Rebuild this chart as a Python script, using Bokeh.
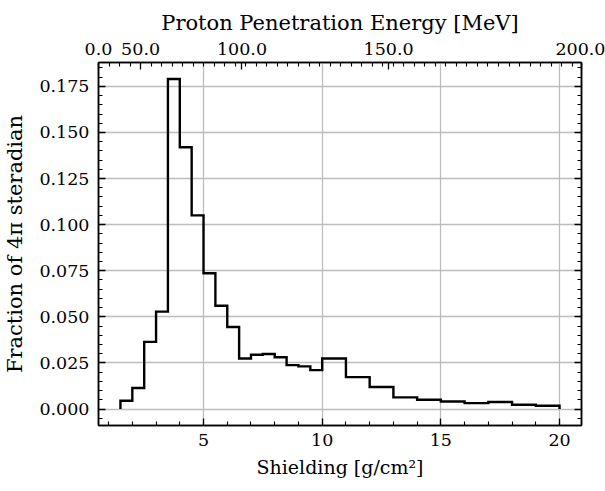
from bokeh.plotting import figure
from bokeh.models import (LinearAxis, FixedTicker, SingleIntervalTicker, CustomJSTickFormatter,
                          PrintfTickFormatter, Range1d)
from bokeh.embed import file_html
from bokeh.resources import INLINE

# ---- data ----
bin_edges = [1.5, 2.0, 2.5, 3.0, 3.5, 4.0, 4.5, 5.0, 5.5, 6.0, 6.5, 7.0, 7.5, 8.0, 8.5, 9.0, 9.5, 10.0,
             11.0, 12.0, 13.0, 14.0, 15.0, 16.0, 17.0, 18.0, 19.0, 20.0]
fractions = [0.0045, 0.0114, 0.0364, 0.0528, 0.1790, 0.1420, 0.1050, 0.0736, 0.0560, 0.0445,
             0.0274, 0.0294, 0.0298, 0.0281, 0.0238, 0.0231, 0.0211, 0.0274, 0.0173, 0.0119,
             0.0063, 0.0050, 0.0041, 0.0032, 0.0038, 0.0023, 0.0018]

x_lo, x_hi = 0.575, 20.925
y_lo, y_hi = -0.00895, 0.18795

energy_labels = ["0.0", "50.0", "100.0", "150.0", "200.0"]
energy_positions = [x_lo, 2.349, 6.62, 12.80, x_hi]

FONT = "DejaVu Serif"
FS = "17.5px"

p = figure(width=605, height=491, output_backend="svg", toolbar_location=None,
           x_range=Range1d(x_lo, x_hi), y_range=Range1d(y_lo, y_hi),
           min_border_left=98, min_border_right=24, min_border_top=62, min_border_bottom=66)
p.background_fill_color = "white"
p.border_fill_color = "white"
p.outline_line_color = "black"
p.outline_line_width = 1.5

# step outline of histogram
xs = [bin_edges[0]] + bin_edges
ys = [0.0] + fractions + [0.0]
p.step(x=xs, y=ys, mode="after", line_color="black", line_width=2.4, line_join="miter")

def style_axis(ax, label_size=FS):
    ax.axis_line_color = "black"
    ax.axis_line_width = 1.5
    ax.major_tick_line_color = "black"
    ax.minor_tick_line_color = "black"
    ax.major_tick_line_width = 1.3
    ax.minor_tick_line_width = 1.1
    ax.major_tick_in = 7
    ax.major_tick_out = 0
    ax.minor_tick_in = 4
    ax.minor_tick_out = 0
    ax.major_label_text_font = FONT
    ax.major_label_text_font_size = FS
    ax.major_label_text_color = "black"
    ax.axis_label_text_font = FONT
    ax.axis_label_text_font_size = label_size
    ax.axis_label_text_font_style = "normal"
    ax.axis_label_text_color = "black"

xticker = SingleIntervalTicker(interval=5, num_minor_ticks=5)
yticker = SingleIntervalTicker(interval=0.025, num_minor_ticks=5)

bx = p.xaxis[0]
bx.ticker = xticker
bx.formatter = PrintfTickFormatter(format="%d")
bx.axis_label = "Shielding [g/cm²]"
style_axis(bx, "19px")
bx.major_label_standoff = 8
bx.axis_label_standoff = 7

ly = p.yaxis[0]
ly.ticker = yticker
ly.formatter = PrintfTickFormatter(format="%.3f")
ly.axis_label = "Fraction of 4π steradian"
style_axis(ly, "21px")
ly.major_label_standoff = 9
ly.axis_label_standoff = 9

# right mirror axis
ry = LinearAxis(ticker=yticker, formatter=CustomJSTickFormatter(code="return ''"))
style_axis(ry)
p.add_layout(ry, "right")

# top axis: proton penetration energy
step = (energy_positions[1] - energy_positions[0]) / 4.0
top_minor = []
k = 0
while energy_positions[0] + k * step <= x_hi:
    t = energy_positions[0] + k * step
    if all(abs(t - m) > 1e-6 for m in energy_positions):
        top_minor.append(t)
    k += 1
top_ticker = FixedTicker(ticks=energy_positions, minor_ticks=top_minor)
top_fmt = CustomJSTickFormatter(args=dict(pos=energy_positions, lab=energy_labels), code="""
let best = 0, d = 1e9;
for (let i = 0; i < pos.length; i++) { const dd = Math.abs(pos[i] - tick); if (dd < d) { d = dd; best = i; } }
return lab[best];
""")
tx = LinearAxis(ticker=top_ticker, formatter=top_fmt, axis_label="Proton Penetration Energy [MeV]")
style_axis(tx, "21px")
tx.major_label_standoff = 8
tx.axis_label_standoff = 5
p.add_layout(tx, "above")

# grid
p.xgrid.ticker = xticker
p.ygrid.ticker = yticker
for g in (p.xgrid[0], p.ygrid[0]):
    g.grid_line_color = "#bdbdbd"
    g.grid_line_width = 1.3
    g.minor_grid_line_color = None

open("out.html", "w").write(file_html(p, INLINE))
